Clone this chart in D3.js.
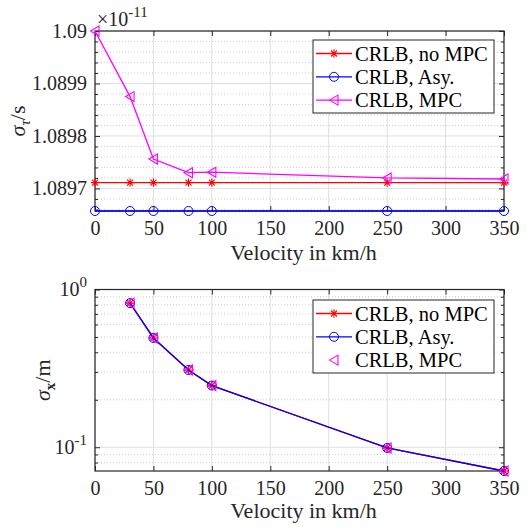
<!DOCTYPE html>
<html>
<head>
<meta charset="utf-8">
<script src="https://d3js.org/d3.v7.min.js"></script>
<style>
  svg text { font-family: serif; }
</style>
</head>
<body style="margin:0;background:#fff">
<svg id="chart" width="527" height="527"></svg>
<script>
// velocities in km/h
const velocity = [0, 30, 50, 80, 100, 250, 350];
// sigma_tau in units of 1e-11 s
const tauNoMpc = [1.089711, 1.089711, 1.089711, 1.089711, 1.089711, 1.089711, 1.089711];
const tauAsy   = [1.089657, 1.089657, 1.089657, 1.089657, 1.089657, 1.089657, 1.089657];
const tauMpc   = [1.090000, 1.089875, 1.089756, 1.089730, 1.089731, 1.089720, 1.089718];

// position error (no value at 0 km/h)
const velocityPos = [30, 50, 80, 100, 250, 350];
const posNoMpc = [0.820, 0.493, 0.309, 0.246, 0.0990, 0.0707];
const posAsy   = [0.820, 0.493, 0.309, 0.246, 0.0990, 0.0707];
const posMpc   = [0.820, 0.493, 0.309, 0.246, 0.0990, 0.0707];

const xTicks = [0, 50, 100, 150, 200, 250, 300, 350];
const legendNames = ['CRLB, no MPC', 'CRLB, Asy.', 'CRLB, MPC'];
const colors = ['#ff0000', '#0000ff', '#ff00ff'];
const FAMILY = 'serif';
const INK = '#262626';

const svg = d3.select('#chart');
const left = 95, right = 504;

// marker shapes
function markerPath(kind) {
  if (kind === 'star') {
    const r = 4.2, d = 3;
    return `M0,${-r}V${r}M${-r},0H${r}M${-d},${-d}L${d},${d}M${-d},${d}L${d},${-d}`;
  }
  if (kind === 'tri') return 'M-4.5,0L4,-5L4,5Z';
  return null;
}
function drawMarkers(g, pts, kind, color) {
  if (kind === 'circle') {
    g.selectAll(null).data(pts).enter().append('circle')
      .attr('cx', d => d[0]).attr('cy', d => d[1]).attr('r', 4.5)
      .attr('fill', 'none').attr('stroke', color).attr('stroke-width', 1);
  } else {
    g.selectAll(null).data(pts).enter().append('path')
      .attr('transform', d => `translate(${d[0]},${d[1]})`)
      .attr('d', markerPath(kind))
      .attr('fill', 'none').attr('stroke', color).attr('stroke-width', 1.1);
  }
}

function drawLegend(x0, y0, showLine) {
  const lg = svg.append('g');
  lg.append('rect').attr('x', x0).attr('y', y0).attr('width', 181).attr('height', 73)
    .attr('fill', '#fff').attr('stroke', INK).attr('stroke-width', 1);
  const kinds = ['star', 'circle', 'tri'];
  legendNames.forEach((name, i) => {
    const cy = y0 + 13.5 + i * 23.3;
    if (showLine[i]) {
      lg.append('line').attr('x1', x0 + 3).attr('x2', x0 + 39).attr('y1', cy).attr('y2', cy)
        .attr('stroke', colors[i]).attr('stroke-width', 1.3);
    }
    drawMarkers(lg, [[x0 + 21, cy]], kinds[i], colors[i]);
    lg.append('text').attr('x', x0 + 42).attr('y', cy + 7)
      .attr('font-size', 20.5).attr('fill', '#000').text(name);
  });
}

function frame(top, bottom, x, y, yTickVals, yMinorVals) {
  const g = svg.append('g');
  // grid
  g.selectAll(null).data(xTicks).enter().append('line')
    .attr('x1', d => x(d)).attr('x2', d => x(d)).attr('y1', top).attr('y2', bottom)
    .attr('stroke', '#dfdfdf').attr('stroke-width', 1);
  g.selectAll(null).data(yMinorVals).enter().append('line')
    .attr('x1', left).attr('x2', right).attr('y1', d => y(d)).attr('y2', d => y(d))
    .attr('stroke', '#c4c4c4').attr('stroke-width', 0.8).attr('stroke-dasharray', '1,2');
  g.selectAll(null).data(yTickVals).enter().append('line')
    .attr('x1', left).attr('x2', right).attr('y1', d => y(d)).attr('y2', d => y(d))
    .attr('stroke', '#dfdfdf').attr('stroke-width', 1);
  return g;
}

function axes(top, bottom, x, y, yTickVals, yMinorVals, yFormat) {
  const ax = svg.append('g');
  ax.append('g').attr('transform', `translate(0,${bottom})`)
    .call(d3.axisBottom(x).tickValues(xTicks).tickSizeInner(-5).tickSizeOuter(0).tickPadding(10));
  ax.append('g').attr('transform', `translate(0,${top})`)
    .call(d3.axisTop(x).tickValues(xTicks).tickSizeInner(-5).tickSizeOuter(0).tickFormat(''));
  const yl = ax.append('g').attr('transform', `translate(${left},0)`)
    .call(d3.axisLeft(y).tickValues(yTickVals).tickSizeInner(-5).tickSizeOuter(0).tickPadding(8).tickFormat(yFormat));
  ax.append('g').attr('transform', `translate(${left},0)`)
    .call(d3.axisLeft(y).tickValues(yMinorVals).tickSizeInner(-3).tickSizeOuter(0).tickFormat(''));
  ax.append('g').attr('transform', `translate(${right},0)`)
    .call(d3.axisRight(y).tickValues(yTickVals).tickSizeInner(-5).tickSizeOuter(0).tickFormat(''));
  ax.append('g').attr('transform', `translate(${right},0)`)
    .call(d3.axisRight(y).tickValues(yMinorVals).tickSizeInner(-3).tickSizeOuter(0).tickFormat(''));
  ax.selectAll('.domain').remove();
  ax.selectAll('g').attr('font-family', FAMILY).attr('font-size', 20);
  ax.selectAll('.tick text').attr('fill', INK);
  ax.selectAll('.tick line').attr('stroke', INK).attr('stroke-width', 1);
  ax.append('rect').attr('x', left).attr('y', top).attr('width', right - left).attr('height', bottom - top)
    .attr('fill', 'none').attr('stroke', INK).attr('stroke-width', 1.2);
  return yl;
}

function xLabel(yBase) {
  svg.append('text').attr('x', (left + right) / 2 + 4).attr('y', yBase)
    .attr('font-size', 22).attr('fill', INK)
    .attr('text-anchor', 'middle').text('Velocity in km/h');
}

// ---------- top panel ----------
{
  const top = 31, bottom = 211;
  const x = d3.scaleLinear().domain([0, 350]).range([left, right]);
  const all = tauNoMpc.concat(tauAsy, tauMpc);
  const y = d3.scaleLinear().domain(d3.extent(all)).range([bottom, top]);
  const yTickVals = y.ticks(4);
  const yMinorVals = y.ticks(20).filter(v => !yTickVals.some(t => Math.abs(t - v) < 1e-9));

  frame(top, bottom, x, y, yTickVals, yMinorVals);
  const line = d3.line().x(d => x(d[0])).y(d => y(d[1]));
  const series = [tauNoMpc, tauAsy, tauMpc];
  const kinds = ['star', 'circle', 'tri'];
  axes(top, bottom, x, y, yTickVals, yMinorVals, d3.format('~g'));
  series.forEach((s, i) => {
    const pts = velocity.map((v, j) => [v, s[j]]);
    svg.append('path').datum(pts).attr('d', line).attr('fill', 'none')
      .attr('stroke', colors[i]).attr('stroke-width', 1.3);
    drawMarkers(svg.append('g'), pts.map(p => [x(p[0]), y(p[1])]), kinds[i], colors[i]);
  });

  // exponent
  const ex = svg.append('text').attr('x', 97).attr('y', 26).attr('fill', INK).attr('font-size', 20);
  ex.append('tspan').text('\u00d710');
  ex.append('tspan').attr('dy', -9).attr('font-size', 15).text('-11');

  xLabel(260);
  const yl = svg.append('text').attr('font-size', 22).attr('fill', INK)
    .attr('transform', `translate(25,${(top + bottom) / 2}) rotate(-90)`).attr('text-anchor', 'middle');
  yl.append('tspan').attr('font-style', 'italic').text('\u03c3');
  yl.append('tspan').attr('dy', 5).attr('font-size', 15).attr('font-style', 'italic').text('\u03c4');
  yl.append('tspan').attr('dy', -5).text('/s');

  drawLegend(313, 40, [true, true, true]);
}

// ---------- bottom panel ----------
{
  const top = 289.5, bottom = 471;
  const x = d3.scaleLinear().domain([0, 350]).range([left, right]);
  const all = posNoMpc.concat(posAsy, posMpc);
  const y = d3.scaleLog().domain([d3.min(all), 1]).range([bottom, top]);
  const yTickVals = [0.1, 1];
  const yMinorVals = [0.08, 0.09, 0.2, 0.3, 0.4, 0.5, 0.6, 0.7, 0.8, 0.9];

  frame(top, bottom, x, y, yTickVals, yMinorVals);
  const line = d3.line().x(d => x(d[0])).y(d => y(d[1]));
  const yl = axes(top, bottom, x, y, yTickVals, yMinorVals, d => d);
  yl.selectAll('.tick text').each(function(d) {
    const t = d3.select(this).text('');
    t.append('tspan').text('10');
    t.append('tspan').attr('dy', -9).attr('font-size', 15).text(String(Math.round(Math.log10(d))));
  });

  const series = [posNoMpc, posAsy, posMpc];
  const kinds = ['star', 'circle', 'tri'];
  const withLine = [true, true, false];
  series.forEach((s, i) => {
    const pts = velocityPos.map((v, j) => [v, s[j]]);
    if (withLine[i]) {
      svg.append('path').datum(pts).attr('d', line).attr('fill', 'none')
        .attr('stroke', colors[i]).attr('stroke-width', 1.3);
    }
    drawMarkers(svg.append('g'), pts.map(p => [x(p[0]), y(p[1])]), kinds[i], colors[i]);
  });

  xLabel(518);
  const lab = svg.append('text').attr('font-size', 22).attr('fill', INK)
    .attr('transform', `translate(50,${(top + bottom) / 2}) rotate(-90)`).attr('text-anchor', 'middle');
  lab.append('tspan').attr('font-style', 'italic').text('\u03c3');
  lab.append('tspan').attr('dy', 5).attr('font-size', 15).attr('font-weight', 'bold').text('x');
  lab.append('tspan').attr('dy', -5).text('/m');

  drawLegend(313, 300, [true, true, false]);
}
svg.selectAll('text').attr('font-family', FAMILY);
</script>
</body>
</html>
